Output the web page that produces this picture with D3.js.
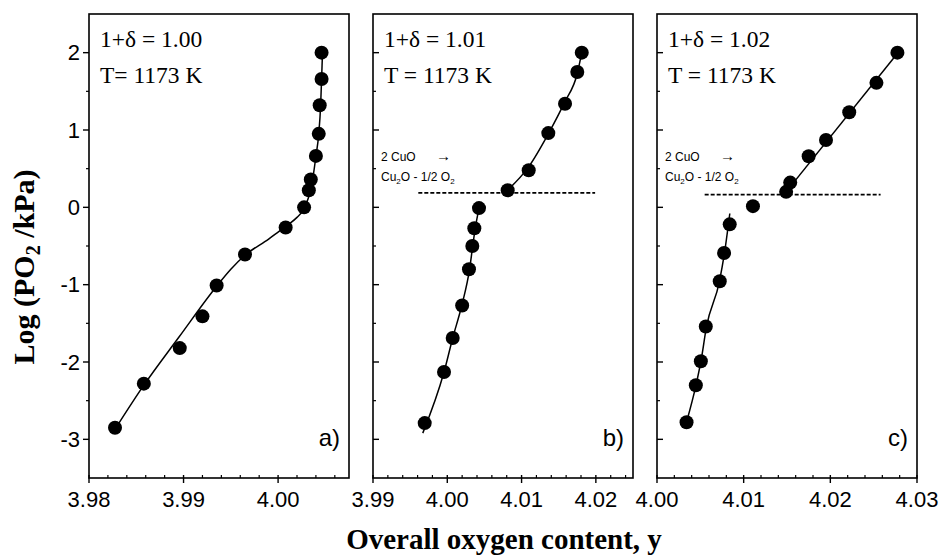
<!DOCTYPE html>
<html>
<head>
<meta charset="utf-8">
<script src="https://cdn.jsdelivr.net/npm/d3@7"></script>
<style>
  body { margin: 0; background: #fff; }
  svg { display: block; }
</style>
</head>
<body>
<svg id="chart" width="940" height="555"></svg>
<script>
// ---- data ----
// a) 1+δ = 1.00
const aX = [3.98275, 3.9858, 3.9896, 3.9920, 3.9935, 3.9965, 4.0008, 4.00275, 4.00325, 4.00346, 4.0040, 4.0043, 4.0044, 4.0046, 4.0046]
const aY = [-2.85, -2.28, -1.82, -1.41, -1.01, -0.61, -0.26, 0.0, 0.22, 0.36, 0.665, 0.95, 1.32, 1.66, 2.0]
const aFitX = [3.9827, 3.9858, 3.9895, 3.9935, 3.9950, 3.9965, 3.9990, 4.0000, 4.0010, 4.0020, 4.0027, 4.0032, 4.0036, 4.0040, 4.0043, 4.0045, 4.0046, 4.0047]
const aFitY = [-2.88, -2.30, -1.68, -1.02, -0.80, -0.62, -0.41, -0.32, -0.23, -0.13, -0.03, 0.12, 0.32, 0.66, 0.95, 1.32, 1.66, 2.0]

// b) 1+δ = 1.01
const bX = [3.99696, 3.99956, 4.00073, 4.0020, 4.00292, 4.00337, 4.00364, 4.00427, 4.00813, 4.01096, 4.0136, 4.01585, 4.0175, 4.0181]
const bY = [-2.79, -2.13, -1.69, -1.27, -0.80, -0.50, -0.27, -0.01, 0.22, 0.48, 0.96, 1.34, 1.75, 2.0]
const bLowFitX = [3.9967, 3.99956, 4.00073, 4.0020, 4.0030, 4.00345, 4.0038, 4.0043]
const bLowFitY = [-2.92, -2.13, -1.69, -1.25, -0.80, -0.48, -0.25, 0.0]
const bHighFitX = [4.0081, 4.0110, 4.0136, 4.0158, 4.0175, 4.0181]
const bHighFitY = [0.22, 0.53, 0.95, 1.36, 1.73, 2.0]

// c) 1+δ = 1.02
const cX = [4.00341, 4.00448, 4.00506, 4.00563, 4.00724, 4.00774, 4.00839, 4.01107, 4.0149, 4.01537, 4.0175, 4.0195, 4.02218, 4.02532, 4.02774]
const cY = [-2.78, -2.30, -1.99, -1.54, -0.955, -0.59, -0.22, 0.015, 0.20, 0.32, 0.66, 0.87, 1.23, 1.61, 2.0]
const cLowFitX = [4.0034, 4.0045, 4.0051, 4.0057, 4.0072, 4.0078, 4.0084]
const cLowFitY = [-2.78, -2.30, -1.97, -1.55, -0.96, -0.58, -0.08]
const cHighFitX = [4.0149, 4.0278]
const cHighFitY = [0.20, 2.0]

// 2 CuO -> Cu2O + 1/2 O2 level (dashed)
const cuoLevel = [null, 0.187, 0.165]
const cuoFrom = [null, 3.9961, 4.0055]
const cuoTo = [null, 4.0199, 4.0258]

const xDomains = [[3.98, 4.0075], [3.99, 4.025], [4.00, 4.03]]
const xTicks = [[3.98, 3.99, 4.00], [3.99, 4.00, 4.01, 4.02], [4.00, 4.01, 4.02, 4.03]]
const yDomain = [-3.5, 2.5]
const yTicks = [-3, -2, -1, 0, 1, 2]
const deltaLabels = ["1+δ = 1.00", "1+δ = 1.01", "1+δ = 1.02"]
const tempLabels = ["T= 1173 K", "T = 1173 K", "T = 1173 K"]
const panelTags = ["a)", "b)", "c)"]

// ---- layout ----
const panelLeft = [89, 373, 657]
const panelW = 260
const plotTop = 14, plotBottom = 478
const serif = "'Liberation Serif', 'Times New Roman', serif"
const sans = "'Liberation Sans', Arial, sans-serif"

const svg = d3.select("#chart")
const y = d3.scaleLinear().domain(yDomain).range([plotBottom, plotTop])

const series = [
    { pts: [aX, aY], fits: [[aFitX, aFitY]] },
    { pts: [bX, bY], fits: [[bLowFitX, bLowFitY], [bHighFitX, bHighFitY]] },
    { pts: [cX, cY], fits: [[cLowFitX, cLowFitY], [cHighFitX, cHighFitY]] }
]

series.forEach((s, i) => {
    const left = panelLeft[i]
    const x = d3.scaleLinear().domain(xDomains[i]).range([left, left + panelW])
    const g = svg.append("g")

    // frame
    g.append("rect")
        .attr("x", left).attr("y", plotTop)
        .attr("width", panelW).attr("height", plotBottom - plotTop)
        .attr("fill", "none").attr("stroke", "#000").attr("stroke-width", 1.6)

    // y ticks: outward with labels on first panel, inward on the others
    const dir = i === 0 ? -1 : 1
    const yMinor = d3.range(-7, 6).map(k => k / 2).filter(v => !yTicks.includes(v) && v > yDomain[0] && v < yDomain[1])
    g.selectAll(".ymaj").data(yTicks).join("line")
        .attr("x1", left).attr("x2", left + dir * 6)
        .attr("y1", d => y(d)).attr("y2", d => y(d))
        .attr("stroke", "#000").attr("stroke-width", 1.4)
    g.selectAll(".ymin").data(yMinor).join("line")
        .attr("x1", left).attr("x2", left + dir * 3)
        .attr("y1", d => y(d)).attr("y2", d => y(d))
        .attr("stroke", "#000").attr("stroke-width", 1.2)
    if (i === 0) {
        g.selectAll(".ylab").data(yTicks).join("text")
            .attr("x", left - 9).attr("y", d => y(d)).attr("dy", "0.35em")
            .attr("text-anchor", "end")
            .style("font-family", sans).style("font-size", "22px")
            .text(d => String(d))
    }

    // x ticks
    const [lo, hi] = xDomains[i]
    const xMinor = d3.range(Math.ceil(lo * 500 - 1e-6), Math.floor(hi * 500 + 1e-6) + 1)
        .map(k => k / 500)
        .filter(v => !xTicks[i].some(t => Math.abs(t - v) < 1e-6))
    g.selectAll(".xmaj").data(xTicks[i]).join("line")
        .attr("x1", d => x(d)).attr("x2", d => x(d))
        .attr("y1", plotBottom - 3).attr("y2", plotBottom + 5)
        .attr("stroke", "#000").attr("stroke-width", 1.4)
    g.selectAll(".xmin").data(xMinor).join("line")
        .attr("x1", d => x(d)).attr("x2", d => x(d))
        .attr("y1", plotBottom - 3).attr("y2", plotBottom)
        .attr("stroke", "#000").attr("stroke-width", 1.2)
    g.selectAll(".xlab").data(xTicks[i]).join("text")
        .attr("x", d => x(d)).attr("y", 507)
        .attr("text-anchor", "middle")
        .style("font-family", sans).style("font-size", "22px")
        .text(d => d3.format(".2f")(d))

    // fitted curves
    const line = d3.line().x(d => x(d[0])).y(d => y(d[1])).curve(d3.curveMonotoneX)
    s.fits.forEach(([fx, fy]) => {
        g.append("path")
            .datum(fx.map((v, k) => [v, fy[k]]))
            .attr("d", line)
            .attr("fill", "none").attr("stroke", "#000").attr("stroke-width", 1.5)
    })

    // dashed CuO decomposition level
    if (cuoLevel[i] !== null) {
        g.append("line")
            .attr("x1", x(cuoFrom[i])).attr("x2", x(cuoTo[i]))
            .attr("y1", y(cuoLevel[i])).attr("y2", y(cuoLevel[i]))
            .attr("stroke", "#000").attr("stroke-width", 1.8)
            .attr("stroke-dasharray", "4,2")

        g.append("text").attr("x", left + 8).attr("y", 161)
            .style("font-family", sans).style("font-size", "12px")
            .text("2 CuO")
        g.append("text").attr("x", left + 63).attr("y", 161)
            .style("font-family", sans).style("font-size", "15px").style("font-weight", "bold")
            .text("→")
        const t2 = g.append("text").attr("x", left + 8).attr("y", 181)
            .style("font-family", sans).style("font-size", "12px")
        t2.append("tspan").text("Cu")
        t2.append("tspan").attr("dy", 3).style("font-size", "8px").text("2")
        t2.append("tspan").attr("dy", -3).text("O - 1/2 O")
        t2.append("tspan").attr("dy", 3).style("font-size", "8px").text("2")
    }

    // data points
    const [px, py] = s.pts
    g.selectAll(".pt").data(px.map((v, k) => [v, py[k]])).join("circle")
        .attr("cx", d => x(d[0])).attr("cy", d => y(d[1]))
        .attr("r", 7).attr("fill", "#000")

    // panel texts
    g.append("text").attr("x", left + 11).attr("y", 47)
        .style("font-family", serif).style("font-size", "23.5px")
        .text(deltaLabels[i])
    g.append("text").attr("x", left + 11).attr("y", 83)
        .style("font-family", serif).style("font-size", "23.5px")
        .text(tempLabels[i])
    g.append("text").attr("x", left + panelW - 9).attr("y", 446)
        .attr("text-anchor", "end")
        .style("font-family", sans).style("font-size", "24px")
        .text(panelTags[i])
})

// axis titles
const yt = svg.append("text")
    .attr("transform", "translate(34,267) rotate(-90)")
    .attr("text-anchor", "middle")
    .style("font-family", serif).style("font-size", "30px").style("font-weight", "bold")
yt.append("tspan").text("Log (PO")
yt.append("tspan").attr("dy", 6).style("font-size", "20px").text("2")
yt.append("tspan").attr("dy", -6).text(" /kPa)")

svg.append("text")
    .attr("x", 504).attr("y", 549)
    .attr("text-anchor", "middle")
    .style("font-family", serif).style("font-size", "29px").style("font-weight", "bold")
    .text("Overall oxygen content, y")
</script>
</body>
</html>
